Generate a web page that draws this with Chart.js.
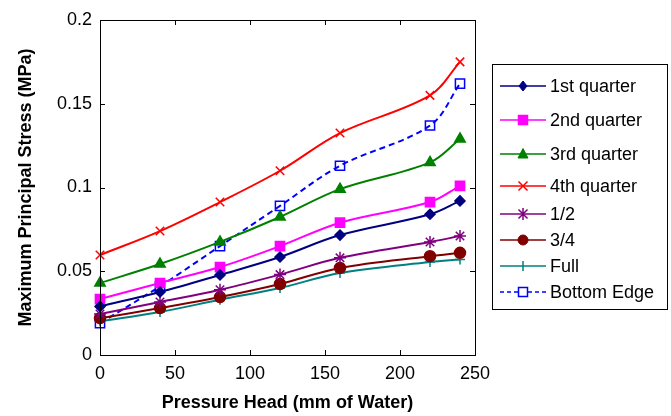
<!DOCTYPE html>
<html>
<head>
<meta charset="utf-8">
<script src="https://cdn.jsdelivr.net/npm/chart.js@4/dist/chart.umd.min.js"></script>
<style>
  body { margin: 0; background: #fff; }
  #wrap { position: relative; width: 671px; height: 416px; }
  #legend {
    position: absolute; left: 492px; top: 64px; width: 176px; height: 246px;
    border: 1px solid #000; box-sizing: border-box; padding-top: 4px;
    font-family: "Liberation Sans", Arial, sans-serif; font-size: 18px; color: #000;
  }
  .item { display: flex; align-items: center; }
  .item svg { margin-left: 7px; margin-right: 4px; }
</style>
</head>
<body>
<div id="wrap">
  <canvas id="chart" width="671" height="416"></canvas>
  <div id="legend"></div>
</div>
<script>
// Pressure head values (x) and stress per location (y, MPa)
const pressureHead = [0, 40, 80, 120, 160, 220, 240];
const firstQuarter = [0.029, 0.0376, 0.0478, 0.0585, 0.0716, 0.084, 0.092];
const secondQuarter = [0.0334, 0.043, 0.0525, 0.065, 0.079, 0.0913, 0.101];
const thirdQuarter = [0.043, 0.0543, 0.0675, 0.0824, 0.099, 0.115, 0.129];
const fourthQuarter = [0.0597, 0.074, 0.0913, 0.110, 0.1325, 0.155, 0.175];
const half = [0.0245, 0.0316, 0.039, 0.048, 0.058, 0.0675, 0.071];
const threeQuarter = [0.022, 0.028, 0.0346, 0.0424, 0.052, 0.059, 0.061];
const full = [0.020, 0.0257, 0.033, 0.040, 0.049, 0.0555, 0.057];
const bottomEdge = [0.019, 0.041, 0.065, 0.089, 0.113, 0.137, 0.162];

const xTicks = [0, 50, 100, 150, 200, 250];
const yTicks = [0, 0.05, 0.1, 0.15, 0.2];

const FONT = '"Liberation Sans", Arial, sans-serif';

const series = [
  { label: '1st quarter', data: firstQuarter, color: '#000080', style: 'rectRot', r: 5, fill: true },
  { label: '2nd quarter', data: secondQuarter, color: '#ff00ff', style: 'rect', r: 6.5, fill: true },
  { label: '3rd quarter', data: thirdQuarter, color: '#008000', style: 'triangle', r: 6, fill: true },
  { label: '4th quarter', data: fourthQuarter, color: '#ff0000', style: 'crossRot', r: 6, fill: false },
  { label: '1/2', data: half, color: '#800080', style: 'star', r: 6, fill: false },
  { label: '3/4', data: threeQuarter, color: '#800000', style: 'circle', r: 5.5, fill: true },
  { label: 'Full', data: full, color: '#008080', style: 'cross', r: 5, fill: false },
  { label: 'Bottom Edge', data: bottomEdge, color: '#0000ff', style: 'rect', r: 6.5, fill: false, dash: [6, 4] }
];

const datasets = series.map(s => ({
  label: s.label,
  data: pressureHead.map((x, i) => ({ x: x, y: s.data[i] })),
  borderColor: s.color,
  backgroundColor: s.fill ? s.color : 'rgba(0,0,0,0)',
  pointBorderColor: s.color,
  pointBackgroundColor: s.fill ? s.color : 'rgba(0,0,0,0)',
  pointStyle: s.style,
  pointRadius: s.r,
  pointBorderWidth: 1.5,
  borderWidth: 2,
  borderDash: s.dash || [],
  tension: 0.35,
  clip: false
}));

// box around the plot + inward ticks (MATLAB style)
const boxPlugin = {
  id: 'box',
  afterDraw(chart) {
    const { ctx, chartArea: a, scales } = chart;
    ctx.save();
    ctx.strokeStyle = '#000';
    ctx.lineWidth = 1;
    ctx.strokeRect(a.left + 0.5, a.top + 0.5, a.right - a.left, a.bottom - a.top);
    ctx.beginPath();
    xTicks.forEach(v => {
      const px = Math.round(scales.x.getPixelForValue(v)) + 0.5;
      ctx.moveTo(px, a.bottom); ctx.lineTo(px, a.bottom - 5);
      ctx.moveTo(px, a.top); ctx.lineTo(px, a.top + 5);
    });
    yTicks.forEach(v => {
      const py = Math.round(scales.y.getPixelForValue(v)) + 0.5;
      ctx.moveTo(a.left, py); ctx.lineTo(a.left + 5, py);
      ctx.moveTo(a.right, py); ctx.lineTo(a.right - 5, py);
    });
    ctx.stroke();
    ctx.restore();
  }
};

new Chart(document.getElementById('chart'), {
  type: 'line',
  data: { datasets: datasets },
  options: {
    responsive: false,
    animation: false,
    layout: { padding: { top: 20, right: 196, left: 0, bottom: 0 } },
    plugins: { legend: { display: false }, tooltip: { enabled: false } },
    scales: {
      x: {
        type: 'linear', min: 0, max: 250,
        afterBuildTicks: s => { s.ticks = xTicks.map(v => ({ value: v })); },
        afterFit: s => { s.height = 61; },
        grid: { display: false, drawTicks: false },
        border: { display: false },
        ticks: { color: '#000', padding: 8, font: { family: FONT, size: 18 } },
        title: { display: true, text: 'Pressure Head (mm of Water)', color: '#000',
          padding: { top: 0, bottom: 2 }, font: { family: FONT, size: 18, weight: 'bold' } }
      },
      y: {
        min: 0, max: 0.2,
        afterBuildTicks: s => { s.ticks = yTicks.map(v => ({ value: v })); },
        afterFit: s => { s.width = 100; },
        grid: { display: false, drawTicks: false },
        border: { display: false },
        ticks: { color: '#000', padding: 8, font: { family: FONT, size: 18 },
          callback: v => String(+v.toFixed(2)) },
        title: { display: true, text: 'Maximum Principal Stress (MPa)', color: '#000',
          padding: { top: 15, bottom: 0 }, font: { family: FONT, size: 18, weight: 'bold' } }
      }
    }
  },
  plugins: [boxPlugin]
});

// legend (line + marker sample, then label)
const rowHeights = [34, 34, 34, 30, 26, 26, 26, 26];
function markerSvg(s) {
  const c = s.color, f = s.fill ? c : 'none';
  let m = '';
  if (s.style === 'rectRot') m = `<polygon points="23,4 27,9 23,14 19,9" fill="${f}" stroke="${c}"/>`;
  else if (s.style === 'rect') m = `<rect x="18.5" y="4.5" width="9" height="9" fill="${s.fill ? c : '#fff'}" stroke="${c}" stroke-width="1.5"/>`;
  else if (s.style === 'triangle') m = `<polygon points="23,3.5 28,13 18,13" fill="${f}" stroke="${c}"/>`;
  else if (s.style === 'crossRot') m = `<path d="M18.5 4.5 L27.5 13.5 M27.5 4.5 L18.5 13.5" stroke="${c}" stroke-width="1.5"/>`;
  else if (s.style === 'star') m = `<path d="M18.5 4.5 L27.5 13.5 M27.5 4.5 L18.5 13.5 M23 3 L23 15" stroke="${c}" stroke-width="1.5"/>`;
  else if (s.style === 'circle') m = `<circle cx="23" cy="9" r="5" fill="${f}" stroke="${c}"/>`;
  else if (s.style === 'cross') m = `<path d="M23 4 L23 14" stroke="${c}" stroke-width="1.5"/>`;
  const dash = s.dash ? 'stroke-dasharray="4,3"' : '';
  return `<svg width="46" height="18"><line x1="0" y1="9" x2="46" y2="9" stroke="${c}" stroke-width="1.5" ${dash}/>${m}</svg>`;
}
const legend = document.getElementById('legend');
series.forEach((s, i) => {
  const row = document.createElement('div');
  row.className = 'item';
  row.style.height = rowHeights[i] + 'px';
  row.innerHTML = markerSvg(s) + '<span>' + s.label + '</span>';
  legend.appendChild(row);
});
</script>
</body>
</html>
